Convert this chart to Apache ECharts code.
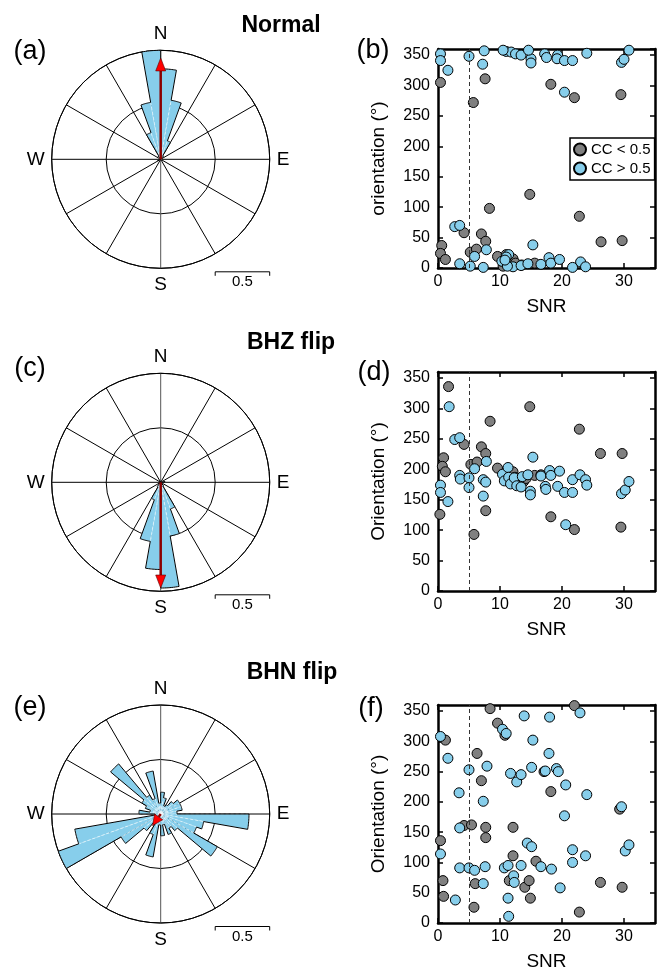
<!DOCTYPE html>
<html><head><meta charset="utf-8">
<script src="https://cdn.jsdelivr.net/npm/echarts@6/dist/echarts.min.js"></script>
<style>html,body{margin:0;padding:0;background:#fff}#c{width:664px;height:973px}</style>
</head><body><div id="c"></div>
<script>
// ---------------- DATA ----------------
// rose histograms: 36 bins of 10 degrees (0-10, 10-20, ... 350-360), normalized
const roseNormal = [0.83,0.55,0.18,0.04,0,0,0,0,0,0,0,0,0,0,0,0,0,0,0,0,0,0,0,0,0.03,0,0,0,0,0,0,0,0.04,0.26,0.53,1.0];
const roseBHZ    = [0,0,0,0,0,0,0,0,0.04,0,0,0,0,0,0.04,0.26,0.5,0.97,0.8,0.55,0.17,0.05,0,0,0,0,0,0,0,0,0,0,0,0,0,0];
const roseBHN    = [0.2,0.15,0.08,0.1,0.15,0.2,0.2,0.2,0.15,0.81,0.4,0.35,0.6,0.2,0.15,0.2,0.1,0.2,0.1,0.4,0.2,0.1,0.2,0.42,1.0,0.8,0.05,0.2,0.1,0.15,0.2,0.6,0.2,0.15,0.4,0.1];
// mean vectors [length, azimuth]
const arrowNormal = [0.93, 0];
const arrowBHZ    = [0.97, 180];
const arrowBHN    = [0.13, 215];

// scatter: [SNR, orientation]
const normalLow = [[0.4,305],[0.6,37],[0.4,24],[1.2,14],[4.2,58],[5.2,26],[6.2,31],[5.7,272],[7.0,56],[7.7,44],[7.6,311],[8.3,98],[9.6,19],[12.1,15],[11.0,22],[14.8,121],[15.6,8],[18.2,302],[22.0,280],[22.8,85],[26.3,43],[29.7,45],[29.5,285],[12.5,8],[13.5,5],[10.5,3]];
const normalHigh = [[0.4,352],[0.4,341],[1.6,325],[5.0,348],[7.45,357],[7.2,335],[11.0,356],[11.8,355],[12.5,352],[13.4,350],[15.0,344],[15.0,337],[14.6,358],[17.2,352],[17.5,346],[19.3,350],[19.2,344],[20.4,341],[21.7,341],[24.0,353],[29.6,338],[30.0,343],[30.8,358],[10.5,358],[20.4,289],
  [2.7,68],[3.5,70],[3.5,7],[5.2,3],[5.9,19],[7.3,1],[7.8,30],[10.3,11],[11.4,22],[11.0,18],[12.1,2],[13.4,4],[14.5,7],[15.3,38],[16.6,6],[17.9,17],[18.2,8],[19.6,14],[21.7,1],[23.0,10],[23.8,2],[11.2,3],[10.8,13]];
const bhzLow = [[1.7,336],[0.3,126],[0.9,219],[0.7,205],[1.2,196],[4.2,241],[5.3,208],[6.3,212],[5.8,93],[7.0,237],[7.7,226],[7.7,132],[8.4,279],[9.6,202],[12.1,196],[14.8,303],[15.6,190],[18.2,122],[22.0,101],[22.8,266],[26.2,226],[29.7,226],[29.5,105],[12.4,187],[13.8,180],[14.2,185],[16.6,191]];
const bhzHigh = [[0.4,174],[0.4,162],[1.6,147],[1.8,303],[2.7,249],[3.5,252],[3.5,190],[3.6,184],[5.0,186],[5.0,170],[5.9,201],[7.3,183],[7.7,179],[7.3,156],[7.8,213],[10.4,192],[10.7,181],[11.3,203],[11.4,187],[11.7,176],[12.3,186],[12.7,173],[13.4,171],[13.6,188],[14.5,191],[14.9,164],[14.9,158],[15.3,220],[16.6,189],[17.3,172],[17.4,167],[18.0,198],[18.2,190],[19.3,172],[19.6,197],[20.4,162],[20.6,109],[21.7,162],[21.7,183],[22.9,191],[23.8,183],[24.0,174],[29.6,160],[30.2,166],[30.8,180]];
const bhnLow = [[0.4,136],[0.8,70],[0.9,44],[1.2,302],[4.2,161],[5.4,162],[5.8,26],[6.3,280],[6.0,65],[7.0,235],[7.7,158],[7.7,141],[8.4,354],[9.6,330],[11.5,70],[12.1,111],[12.1,158],[14.0,59],[14.7,70],[14.9,41],[15.8,102],[17.1,250],[18.2,217],[22.0,359],[22.8,18],[26.2,67],[29.3,188],[29.7,59],[10.8,310]];
const bhnHigh = [[0.4,308],[0.4,114],[1.6,272],[2.8,38],[3.4,215],[3.5,157],[3.5,91],[5.0,253],[5.0,91],[5.9,87],[7.3,201],[7.6,93],[7.3,65],[7.9,259],[10.4,320],[11.0,313],[10.7,91],[11.3,95],[11.3,41],[11.4,11],[11.7,247],[12.2,78],[12.3,67],[12.7,233],[13.4,245],[13.4,95],[13.9,342],[14.4,132],[15.1,126],[15.1,257],[15.3,302],[16.6,93],[17.3,251],[17.9,280],[18.0,340],[18.3,89],[19.1,255],[19.4,250],[19.7,58],[20.4,177],[20.6,228],[21.7,121],[21.7,100],[22.9,347],[23.8,111],[24.0,212],[29.6,192],[30.2,119],[30.8,129]];

const snrThreshold = 5;
const xTicks = {min:0, max:35, interval:10};
const yTicks = {min:0, max:360, interval:50};
const compass = {0:'N', 90:'E', 180:'S', 270:'W'};

// ---------------- CHART ----------------
const FONT = "'Liberation Sans', Arial, Helvetica, sans-serif";
const chart = echarts.init(document.getElementById('c'), null, {renderer:'canvas'});
const BLUE = '#87CEEB', GRAY = '#808080';

const roseCenters = [[160.7,159.3],[160.7,482.3],[160.7,814]];
const roses = [roseNormal, roseBHZ, roseBHN];
const arrows = [arrowNormal, arrowBHZ, arrowBHN];

const polar = roseCenters.map(c => ({center:c, radius:109}));
const angleAxis = roseCenters.map((c,i) => ({
  polarIndex:i, type:'value', min:0, max:360, interval:30, startAngle:90, clockwise:true,
  axisLine:{show:true, lineStyle:{color:'#000', width:1}},
  axisTick:{show:false},
  axisLabel:{show:true, margin:7, fontSize:19, color:'#000', fontFamily:FONT,
    formatter:v => (v===360? '' : (compass[v]||''))},
  splitLine:{show:true, lineStyle:{width:1, color:['#555','#000','#000','#000','#000','#000','#555','#000','#000','#000','#000','#000']}}
}));
const radiusAxis = roseCenters.map((c,i) => ({
  polarIndex:i, type:'value', min:0, max:1, interval:0.5,
  axisLine:{show:false}, axisTick:{show:false}, axisLabel:{show:false},
  splitLine:{show:true, lineStyle:{color:'#000', width:1}}
}));

function roseSeries(i){
  const bins = roses[i];
  return {
    type:'custom', coordinateSystem:'polar', polarIndex:i, silent:true, z:3,
    data:[[0,0]],
    renderItem:(params, api) => {
      const children = [];
      const outline = [];
      bins.forEach((v,k) => {
        const a0 = k*10, a1 = k*10+10;
        const pts = [api.coord([0,a0])];
        for (let t=a0; t<=a1; t+=1) { const p = api.coord([v,t]); pts.push(p); outline.push(p); }
        if (v>0) children.push({type:'polygon', shape:{points:pts},
          style:{fill:BLUE, stroke:'rgba(255,255,255,0.75)', lineWidth:0.7, lineDash:[3,2]}});
      });
      children.push({type:'polygon', shape:{points:outline}, style:{fill:null, stroke:'#000', lineWidth:1}});
      return {type:'group', children};
    }
  };
}
function arrowSeries(i){
  return {
    type:'custom', coordinateSystem:'polar', polarIndex:i, silent:true, z:4,
    data:[arrows[i]],
    renderItem:(params, api) => {
      const r = api.value(0), a = api.value(1);
      const p0 = api.coord([0,a]), p1 = api.coord([r,a]);
      const dx = p1[0]-p0[0], dy = p1[1]-p0[1];
      const L = Math.hypot(dx,dy) || 1;
      const ux = dx/L, uy = dy/L;
      const hl = Math.min(13, L*0.75), hw = 5;
      const bx = p1[0]-ux*hl, by = p1[1]-uy*hl;
      return {type:'group', children:[
        {type:'line', shape:{x1:p0[0],y1:p0[1],x2:bx,y2:by}, style:{stroke:'#8B0000', lineWidth:2.5}},
        {type:'polygon', shape:{points:[[p1[0],p1[1]],[bx-uy*hw,by+ux*hw],[bx+uy*hw,by-ux*hw]]},
          style:{fill:'#FF0000', stroke:'#550000', lineWidth:0.6}}
      ]};
    }
  };
}

const grids = [
  {left:438, top:49, width:217, height:219},
  {left:438, top:372, width:217, height:219},
  {left:438, top:705, width:217, height:218}
];
const yNames = ['orientation (°)','Orientation (°)','Orientation (°)'];
const xAxis = [], yAxis = [];
grids.forEach((g,i) => {
  const line = {show:true, onZero:false, lineStyle:{color:'#000', width:2.5}};
  const tick = {show:true, inside:true, length:5, lineStyle:{color:'#000', width:1.5}};
  xAxis.push({gridIndex:i, type:'value', ...xTicks, position:'bottom', axisLine:line, axisTick:tick,
    axisLabel:{fontSize:16, color:'#000', margin:6, fontFamily:FONT, showMaxLabel:false},
    splitLine:{show:false}, name:'SNR', nameLocation:'middle', nameGap:29,
    nameTextStyle:{fontSize:19, color:'#000', fontFamily:FONT}});
  xAxis.push({gridIndex:i, type:'value', ...xTicks, position:'top', axisLine:line, axisTick:tick,
    axisLabel:{show:false}, splitLine:{show:false}});
  yAxis.push({gridIndex:i, type:'value', ...yTicks, position:'left', axisLine:line, axisTick:tick,
    axisLabel:{fontSize:16, color:'#000', margin:8, fontFamily:FONT, showMaxLabel:false},
    splitLine:{show:false}, name:yNames[i], nameLocation:'middle', nameGap:50,
    nameTextStyle:{fontSize:19, color:'#000', fontFamily:FONT}});
  yAxis.push({gridIndex:i, type:'value', ...yTicks, position:'right', axisLine:line, axisTick:tick,
    axisLabel:{show:false}, splitLine:{show:false}});
});

const scatterSets = [[normalLow, normalHigh],[bhzLow, bhzHigh],[bhnLow, bhnHigh]];
const scatterSeries = [];
scatterSets.forEach((pair,i) => {
  scatterSeries.push({type:'scatter', name:'CC < 0.5', xAxisIndex:2*i, yAxisIndex:2*i, data:pair[0],
    symbolSize:10, itemStyle:{color:GRAY, borderColor:'#000', borderWidth:1, opacity:1}, z:3,
    markLine:{silent:true, symbol:['none','none'], label:{show:false},
      lineStyle:{type:[4,3], color:'#333', width:1}, data:[{xAxis:snrThreshold}]}});
  scatterSeries.push({type:'scatter', name:'CC > 0.5', xAxisIndex:2*i, yAxisIndex:2*i, data:pair[1],
    symbolSize:10, itemStyle:{color:BLUE, borderColor:'#000', borderWidth:1, opacity:1}, z:4});
});

function txt(x,y,s,size,weight){
  return {type:'text', x, y, style:{text:s, fill:'#000', font:`${weight||'normal'} ${size}px ${FONT}`, textAlign:'center', textVerticalAlign:'middle'}, z:10};
}
function scaleBar(c){
  const x0 = c[0]+54.5, x1 = c[0]+109, y = c[1]+112.5;
  return [
    {type:'polyline', shape:{points:[[x0,y+4],[x0,y],[x1,y],[x1,y+4]]}, style:{stroke:'#000', lineWidth:1, fill:null}, z:10},
    txt((x0+x1)/2, y+10, '0.5', 15)
  ];
}
const graphic = [
  txt(30,52,'(a)',27), txt(30,369,'(c)',27), txt(30,708,'(e)',27),
  txt(373,51,'(b)',27), txt(374,373,'(d)',27), txt(371,709,'(f)',27),
  txt(281,26,'Normal',23,'bold'), txt(291,343,'BHZ flip',23,'bold'), txt(292,673,'BHN flip',23,'bold'),
  ...scaleBar(roseCenters[0]), ...scaleBar(roseCenters[1]), ...scaleBar(roseCenters[2])
];

chart.setOption({
  animation:false,
  textStyle:{fontFamily:FONT},
  polar, angleAxis, radiusAxis,
  grid: grids,
  xAxis, yAxis,
  legend:{data:['CC < 0.5','CC > 0.5'], left:570, top:138, orient:'vertical', icon:'circle',
    itemWidth:12, itemHeight:12, itemGap:4, padding:[4,4,4,3], borderColor:'#000', borderWidth:1.5,
    backgroundColor:'#fff', textStyle:{fontSize:15, color:'#000', fontFamily:FONT}, selectedMode:false, z:20},
  series:[roseSeries(0), roseSeries(1), roseSeries(2), arrowSeries(0), arrowSeries(1), arrowSeries(2), ...scatterSeries],
  graphic
});
</script></body></html>
